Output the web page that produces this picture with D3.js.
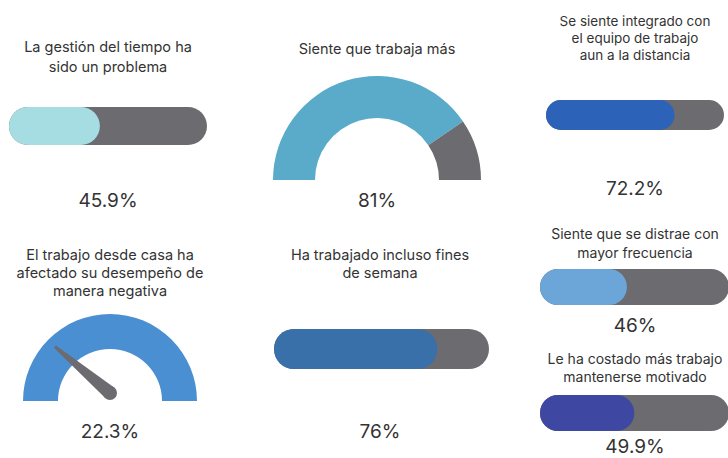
<!DOCTYPE html>
<html><head><meta charset="utf-8">
<script src="https://cdn.jsdelivr.net/npm/d3@7"></script>
<style>body{margin:0;background:#fff}svg{display:block}</style>
</head><body>
<script>
// ---- data ----
const titles = [
  ["La gestión del tiempo ha", "sido un problema"],
  ["Siente que trabaja más"],
  ["Se siente integrado con", "el equipo de trabajo", "aun a la distancia"],
  ["El trabajo desde casa ha", "afectado su desempeño de", "manera negativa"],
  ["Ha trabajado incluso fines", "de semana"],
  ["Siente que se distrae con", "mayor frecuencia"],
  ["Le ha costado más trabajo", "mantenerse motivado"]
];
const values = [45.9, 81, 72.2, 22.3, 76, 46, 49.9];
const valueLabels = ["45.9%", "81%", "72.2%", "22.3%", "76%", "46%", "49.9%"];
const kinds = ["bar", "donut", "bar", "needle", "bar", "bar", "bar"];

// ---- layout / style ----
const layout = [
  {cx:108, ty:47, lh:20, fs:14.5, bx:9, by:107, bw:198, bh:38, vy:200, color:"#a6dde3"},
  {cx:377, ty:49, lh:20, fs:14.5, gy:180, ro:104, ri:62, vy:200, color:"#5aaac9"},
  {cx:635, ty:21, lh:17, fs:13.5, bx:546, by:100, bw:178, bh:30, vy:188, color:"#2c62b7"},
  {cx:110, ty:255, lh:18, fs:14.5, gy:401, ro:87, ri:52, vy:431, color:"#4a8fd1"},
  {cx:380, ty:255, lh:18, fs:14.5, bx:274, by:329, bw:215, bh:40, vy:431, color:"#3a70aa"},
  {cx:635, ty:234, lh:19, fs:14, bx:540, by:269, bw:189, bh:36, vy:325, color:"#6ca5d8"},
  {cx:635, ty:359, lh:18, fs:14, bx:540, by:395, bw:189, bh:36, vy:446, color:"#3e48a3"}
];
const gray = "#6b6b70";
const textColor = "#333";
const font = "Inter, 'Noto Sans', sans-serif";

const svg = d3.select("body").append("svg").attr("width", 728).attr("height", 458);

values.forEach((v, i) => {
  const L = layout[i];
  const g = svg.append("g");
  // title
  const t = g.append("text").attr("text-anchor", "middle")
    .attr("font-family", font).attr("font-size", L.fs).attr("fill", textColor);
  titles[i].forEach((line, j) => {
    t.append("tspan").attr("x", L.cx).attr("y", L.ty + j * L.lh).attr("dy", "0.35em").text(line);
  });
  // value
  g.append("text").attr("x", L.cx).attr("y", L.vy).attr("dy", "0.35em")
    .attr("text-anchor", "middle").attr("font-family", font).attr("font-size", 19)
    .attr("fill", textColor).text(valueLabels[i]);

  if (kinds[i] === "bar") {
    const x = d3.scaleLinear().domain([0, 100]).range([0, L.bw]);
    g.append("rect").attr("x", L.bx).attr("y", L.by).attr("width", x(100)).attr("height", L.bh)
      .attr("rx", L.bh / 2).attr("fill", gray);
    g.append("rect").attr("x", L.bx).attr("y", L.by).attr("width", x(v)).attr("height", L.bh)
      .attr("rx", L.bh / 2).attr("fill", L.color);
  } else {
    const a = d3.scaleLinear().domain([0, 100]).range([-Math.PI / 2, Math.PI / 2]);
    const arc = d3.arc().innerRadius(L.ri).outerRadius(L.ro);
    const gg = g.append("g").attr("transform", `translate(${L.cx},${L.gy})`);
    if (kinds[i] === "donut") {
      gg.append("path").attr("d", arc({startAngle: a(0), endAngle: a(v)})).attr("fill", L.color);
      gg.append("path").attr("d", arc({startAngle: a(v), endAngle: a(100)})).attr("fill", gray);
    } else {
      gg.append("path").attr("d", arc({startAngle: a(0), endAngle: a(100)})).attr("fill", L.color);
      // needle
      const ang = a(v); // angle from vertical (clockwise)
      const len = 72, pivotY = -8, baseR = 7, tipR = 1.5;
      const tx = Math.sin(ang) * len, ty = pivotY - Math.cos(ang) * len;
      const px = Math.cos(ang), py = Math.sin(ang); // perpendicular
      const path = d3.path();
      path.moveTo(px * baseR, pivotY + py * baseR);
      path.lineTo(tx + px * tipR, ty + py * tipR);
      path.lineTo(tx - px * tipR, ty - py * tipR);
      path.lineTo(-px * baseR, pivotY - py * baseR);
      path.closePath();
      gg.append("path").attr("d", path.toString()).attr("fill", gray);
      gg.append("circle").attr("cx", 0).attr("cy", pivotY).attr("r", baseR).attr("fill", gray);
    }
  }
});
</script>
</body></html>
